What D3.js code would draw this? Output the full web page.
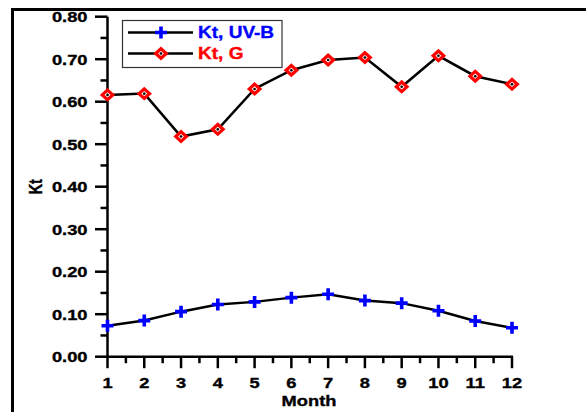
<!DOCTYPE html>
<html><head><meta charset="utf-8">
<script src="https://cdn.jsdelivr.net/npm/d3@7"></script>
<style>
html,body{margin:0;padding:0;background:#fff;}
svg text{font-family:"Liberation Sans",Arial,sans-serif;font-weight:bold;}
</style></head>
<body><svg id="c" width="586" height="412"></svg>
<script>
const months = [1,2,3,4,5,6,7,8,9,10,11,12];
const ktUVB = [0.073,0.085,0.106,0.123,0.129,0.139,0.147,0.132,0.126,0.108,0.084,0.068];
const ktG = [0.616,0.619,0.518,0.535,0.630,0.674,0.698,0.704,0.635,0.708,0.660,0.641];
const yTicks = [0,0.1,0.2,0.3,0.4,0.5,0.6,0.7,0.8];
const yMinor = [0.05,0.15,0.25,0.35,0.45,0.55,0.65,0.75];
const xMinor = [1.5,2.5,3.5,4.5,5.5,6.5,7.5,8.5,9.5,10.5,11.5];
const seriesNames = ["Kt, UV-B","Kt, G"];
const seriesColors = ["#0000ff","#ff0000"];

const SX = 1.22;
const svg = d3.select("#c");
const x = d3.scaleLinear().domain([1,12]).range([107.5,512]);
const y = d3.scaleLinear().domain([0,0.8]).range([356.7,16.7]);

// outer frame
svg.append("rect").attr("x",12.5).attr("y",9.5).attr("width",620).attr("height",450)
  .attr("fill","none").attr("stroke","#000").attr("stroke-width",3);

const ax = svg.append("g").attr("stroke","#000").attr("stroke-width",2.5);
ax.append("line").attr("x1",x(1)).attr("x2",x(1)).attr("y1",y(0)+1).attr("y2",y(0.8));
ax.append("line").attr("x1",x(1)).attr("x2",x(12)+1).attr("y1",y(0)).attr("y2",y(0));
yTicks.forEach(v=>ax.append("line").attr("x1",x(1)-12.5).attr("x2",x(1)).attr("y1",y(v)).attr("y2",y(v)));
yMinor.forEach(v=>ax.append("line").attr("x1",x(1)-7).attr("x2",x(1)).attr("y1",y(v)).attr("y2",y(v)));
months.forEach(v=>ax.append("line").attr("x1",x(v)).attr("x2",x(v)).attr("y1",y(0)).attr("y2",y(0)+11.5));
xMinor.forEach(v=>ax.append("line").attr("x1",x(v)).attr("x2",x(v)).attr("y1",y(0)).attr("y2",y(0)+6.5));

function txt(str,tx,ty,anchor,size,color){
  const c = color||"#000";
  return svg.append("text").attr("transform",`translate(${tx},${ty}) scale(${SX},1)`)
    .attr("text-anchor",anchor).attr("font-size",size).attr("fill",c)
    .attr("stroke",c).attr("stroke-width",0.35).text(str);
}
yTicks.forEach(v=>txt(d3.format(".2f")(v),87.5,y(v)+5.3,"end",15));
months.forEach(v=>txt(String(v),x(v),388,"middle",15));
txt("Month",309,405.5,"middle",15);
svg.append("text").attr("transform",`translate(41.5,${y(0.4)}) rotate(-90) scale(1,${SX})`)
  .attr("text-anchor","middle").attr("font-size",14.5).attr("fill","#000")
  .attr("stroke","#000").attr("stroke-width",0.35).text("Kt");

const line = d3.line().x((d,i)=>x(months[i])).y(d=>y(d));
[ktUVB,ktG].forEach(s=>svg.append("path").attr("d",line(s)).attr("fill","none")
  .attr("stroke","#000").attr("stroke-width",2.5));

function plus(g,cx,cy){
  g.append("path").attr("d",`M${cx-6},${cy}H${cx+6}M${cx},${cy-6}V${cy+6}`)
    .attr("stroke",seriesColors[0]).attr("stroke-width",3.6).attr("fill","none");
}
function diamond(g,cx,cy){
  g.append("path").attr("d",`M${cx},${cy-4.8}L${cx+5.3},${cy}L${cx},${cy+4.8}L${cx-5.3},${cy}Z`)
    .attr("stroke",seriesColors[1]).attr("stroke-width",3.2).attr("fill","#fff");
  g.append("circle").attr("cx",cx).attr("cy",cy).attr("r",1.3).attr("fill","#000");
}
const mk = svg.append("g");
ktUVB.forEach((d,i)=>plus(mk,x(months[i]),y(d)));
ktG.forEach((d,i)=>diamond(mk,x(months[i]),y(d)));

// legend
const lg = svg.append("g");
lg.append("rect").attr("x",122.5).attr("y",20.5).attr("width",159.5).attr("height",47)
  .attr("fill","#fff").attr("stroke","#333").attr("stroke-width",1.2);
[32.5,53.5].forEach((ly,i)=>{
  lg.append("line").attr("x1",128).attr("x2",193).attr("y1",ly).attr("y2",ly)
    .attr("stroke","#000").attr("stroke-width",2.5);
  if(i===0) plus(lg,161,ly); else diamond(lg,161,ly);
  txt(seriesNames[i],198,ly+5.8,"start",15.6,seriesColors[i]);
});
</script></body></html>
